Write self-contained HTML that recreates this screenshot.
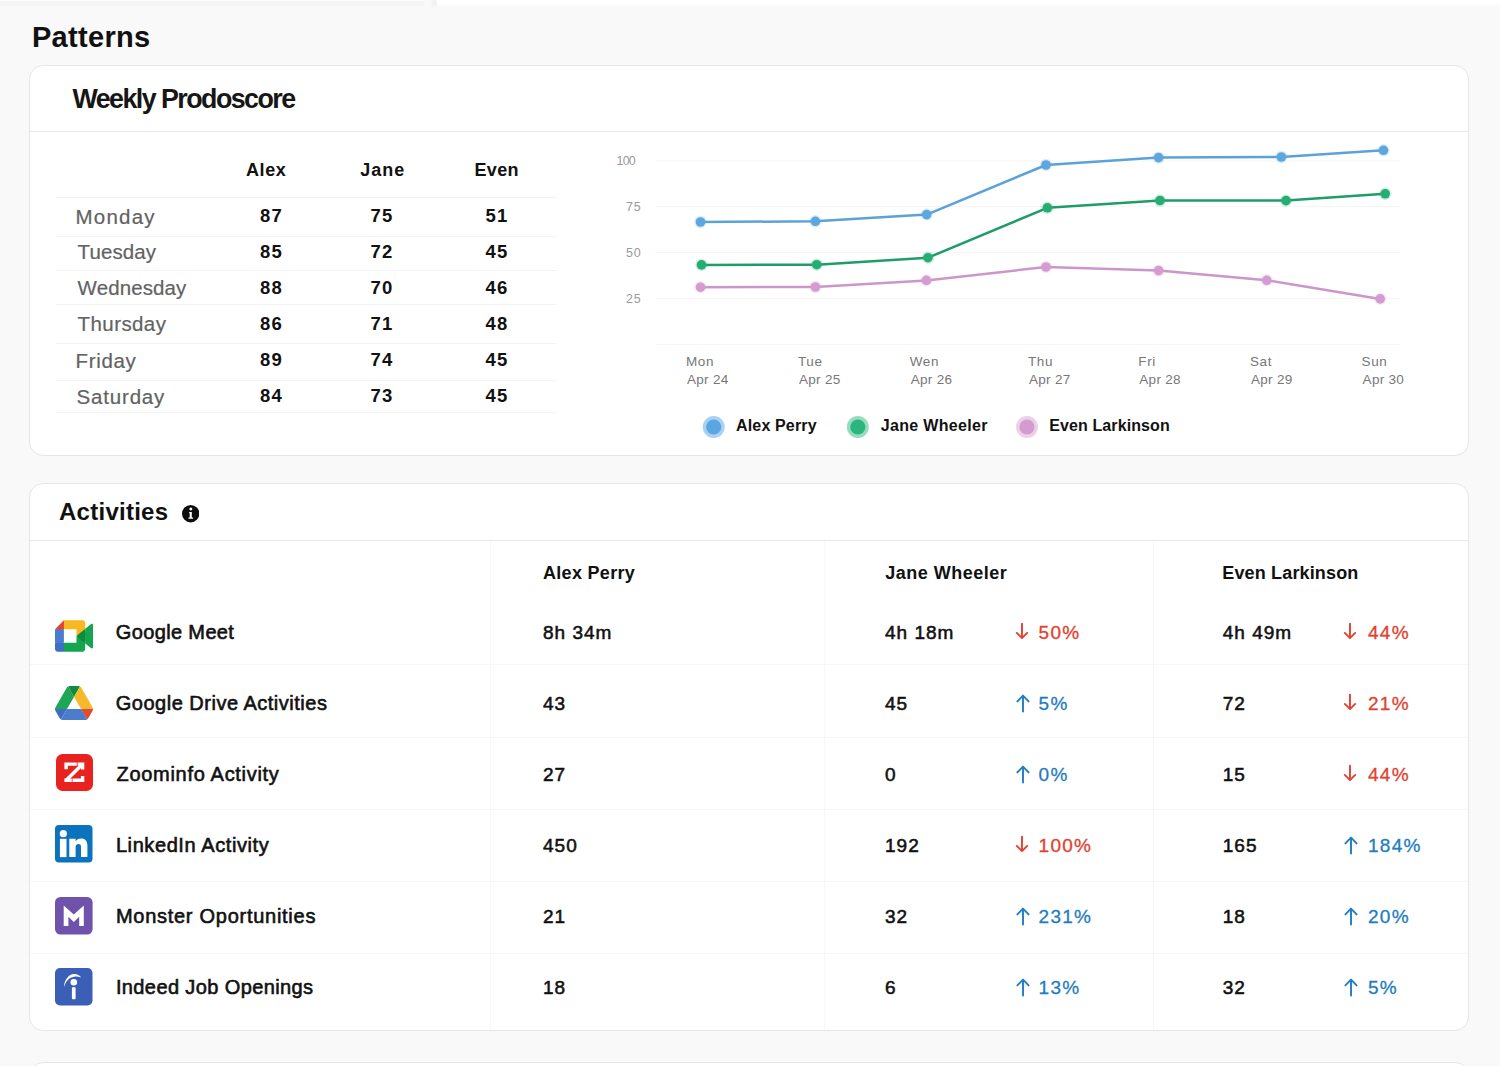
<!DOCTYPE html>
<html><head><meta charset="utf-8"><title>Patterns</title>
<style>
html,body{margin:0;padding:0;}
body{width:1500px;height:1066px;overflow:hidden;position:relative;background:#f9f9f9;font-family:"Liberation Sans",sans-serif;}
.t{position:absolute;white-space:nowrap;line-height:1;}
</style></head><body>
<div class="t" style="left:31.90px;top:23.45px;font-size:29px;font-weight:700;color:#111;letter-spacing:0.33px;">Patterns</div>
<div style="position:absolute;left:29px;top:65px;width:1440px;height:391px;box-sizing:border-box;border:1px solid #e6e6e6;border-radius:14px;background:#fff;"></div>
<div style="position:absolute;left:30px;top:131px;width:1438px;height:1px;background:#e8e8e8;"></div>
<div class="t" style="left:72.40px;top:85.91px;font-size:26.8px;font-weight:700;color:#161616;letter-spacing:-1.53px;">Weekly Prodoscore</div>
<div class="t" style="left:246.00px;top:161.46px;font-size:18px;font-weight:700;color:#111;letter-spacing:0.57px;">Alex</div>
<div class="t" style="left:360.30px;top:161.46px;font-size:18px;font-weight:700;color:#111;letter-spacing:1.0px;">Jane</div>
<div class="t" style="left:474.60px;top:161.46px;font-size:18px;font-weight:700;color:#111;letter-spacing:0.27px;">Even</div>
<div style="position:absolute;left:56px;top:196.5px;width:500px;height:1px;background:#f2f2f2;"></div>
<div style="position:absolute;left:56px;top:236px;width:500px;height:1px;background:#f2f2f2;"></div>
<div style="position:absolute;left:56px;top:269.5px;width:500px;height:1px;background:#f2f2f2;"></div>
<div style="position:absolute;left:56px;top:304px;width:500px;height:1px;background:#f2f2f2;"></div>
<div style="position:absolute;left:56px;top:343px;width:500px;height:1px;background:#f2f2f2;"></div>
<div style="position:absolute;left:56px;top:379.5px;width:500px;height:1px;background:#f2f2f2;"></div>
<div style="position:absolute;left:56px;top:412px;width:500px;height:1px;background:#f2f2f2;"></div>
<div class="t" style="left:75.60px;top:206.55px;font-size:20.5px;font-weight:400;color:#626262;letter-spacing:1.2px;-webkit-text-stroke:0.2px #626262;">Monday</div>
<div class="t" style="left:241.60px;top:206.54px;font-size:18.5px;font-weight:700;color:#111;letter-spacing:1.2px;text-align:center;width:60px;">87</div>
<div class="t" style="left:351.90px;top:206.54px;font-size:18.5px;font-weight:700;color:#111;letter-spacing:1.2px;text-align:center;width:60px;">75</div>
<div class="t" style="left:467.10px;top:206.54px;font-size:18.5px;font-weight:700;color:#111;letter-spacing:1.2px;text-align:center;width:60px;">51</div>
<div class="t" style="left:77.60px;top:242.35px;font-size:20.5px;font-weight:400;color:#626262;letter-spacing:0.08px;-webkit-text-stroke:0.2px #626262;">Tuesday</div>
<div class="t" style="left:241.60px;top:243.14px;font-size:18.5px;font-weight:700;color:#111;letter-spacing:1.2px;text-align:center;width:60px;">85</div>
<div class="t" style="left:351.90px;top:243.14px;font-size:18.5px;font-weight:700;color:#111;letter-spacing:1.2px;text-align:center;width:60px;">72</div>
<div class="t" style="left:467.10px;top:243.14px;font-size:18.5px;font-weight:700;color:#111;letter-spacing:1.2px;text-align:center;width:60px;">45</div>
<div class="t" style="left:77.60px;top:278.25px;font-size:20.5px;font-weight:400;color:#626262;letter-spacing:0.1px;-webkit-text-stroke:0.2px #626262;">Wednesday</div>
<div class="t" style="left:241.60px;top:278.94px;font-size:18.5px;font-weight:700;color:#111;letter-spacing:1.2px;text-align:center;width:60px;">88</div>
<div class="t" style="left:351.90px;top:278.94px;font-size:18.5px;font-weight:700;color:#111;letter-spacing:1.2px;text-align:center;width:60px;">70</div>
<div class="t" style="left:467.10px;top:278.94px;font-size:18.5px;font-weight:700;color:#111;letter-spacing:1.2px;text-align:center;width:60px;">46</div>
<div class="t" style="left:77.60px;top:314.35px;font-size:20.5px;font-weight:400;color:#626262;letter-spacing:0.41px;-webkit-text-stroke:0.2px #626262;">Thursday</div>
<div class="t" style="left:241.60px;top:314.94px;font-size:18.5px;font-weight:700;color:#111;letter-spacing:1.2px;text-align:center;width:60px;">86</div>
<div class="t" style="left:351.90px;top:314.94px;font-size:18.5px;font-weight:700;color:#111;letter-spacing:1.2px;text-align:center;width:60px;">71</div>
<div class="t" style="left:467.10px;top:314.94px;font-size:18.5px;font-weight:700;color:#111;letter-spacing:1.2px;text-align:center;width:60px;">48</div>
<div class="t" style="left:75.60px;top:350.55px;font-size:20.5px;font-weight:400;color:#626262;letter-spacing:0.66px;-webkit-text-stroke:0.2px #626262;">Friday</div>
<div class="t" style="left:241.60px;top:350.94px;font-size:18.5px;font-weight:700;color:#111;letter-spacing:1.2px;text-align:center;width:60px;">89</div>
<div class="t" style="left:351.90px;top:350.94px;font-size:18.5px;font-weight:700;color:#111;letter-spacing:1.2px;text-align:center;width:60px;">74</div>
<div class="t" style="left:467.10px;top:350.94px;font-size:18.5px;font-weight:700;color:#111;letter-spacing:1.2px;text-align:center;width:60px;">45</div>
<div class="t" style="left:76.60px;top:386.75px;font-size:20.5px;font-weight:400;color:#626262;letter-spacing:0.81px;-webkit-text-stroke:0.2px #626262;">Saturday</div>
<div class="t" style="left:241.60px;top:387.14px;font-size:18.5px;font-weight:700;color:#111;letter-spacing:1.2px;text-align:center;width:60px;">84</div>
<div class="t" style="left:351.90px;top:387.14px;font-size:18.5px;font-weight:700;color:#111;letter-spacing:1.2px;text-align:center;width:60px;">73</div>
<div class="t" style="left:467.10px;top:387.14px;font-size:18.5px;font-weight:700;color:#111;letter-spacing:1.2px;text-align:center;width:60px;">45</div>
<div class="t" style="left:616.50px;top:155.42px;font-size:12.5px;font-weight:400;color:#9a9a9a;letter-spacing:-0.8px;">100</div>
<div class="t" style="left:626.10px;top:201.22px;font-size:12.5px;font-weight:400;color:#9a9a9a;letter-spacing:0.8px;">75</div>
<div class="t" style="left:626.10px;top:247.02px;font-size:12.5px;font-weight:400;color:#9a9a9a;letter-spacing:0.8px;">50</div>
<div class="t" style="left:626.10px;top:292.82px;font-size:12.5px;font-weight:400;color:#9a9a9a;letter-spacing:0.8px;">25</div>
<div class="t" style="left:686.00px;top:354.57px;font-size:13.5px;font-weight:400;color:#777;letter-spacing:0.6px;">Mon</div>
<div class="t" style="left:687.00px;top:373.07px;font-size:13.5px;font-weight:400;color:#777;letter-spacing:0.3px;">Apr 24</div>
<div class="t" style="left:798.00px;top:354.57px;font-size:13.5px;font-weight:400;color:#777;letter-spacing:0.6px;">Tue</div>
<div class="t" style="left:799.00px;top:373.07px;font-size:13.5px;font-weight:400;color:#777;letter-spacing:0.3px;">Apr 25</div>
<div class="t" style="left:909.70px;top:354.57px;font-size:13.5px;font-weight:400;color:#777;letter-spacing:0.6px;">Wen</div>
<div class="t" style="left:910.70px;top:373.07px;font-size:13.5px;font-weight:400;color:#777;letter-spacing:0.3px;">Apr 26</div>
<div class="t" style="left:1028.00px;top:354.57px;font-size:13.5px;font-weight:400;color:#777;letter-spacing:0.6px;">Thu</div>
<div class="t" style="left:1029.00px;top:373.07px;font-size:13.5px;font-weight:400;color:#777;letter-spacing:0.3px;">Apr 27</div>
<div class="t" style="left:1138.30px;top:354.57px;font-size:13.5px;font-weight:400;color:#777;letter-spacing:0.6px;">Fri</div>
<div class="t" style="left:1139.30px;top:373.07px;font-size:13.5px;font-weight:400;color:#777;letter-spacing:0.3px;">Apr 28</div>
<div class="t" style="left:1250.00px;top:354.57px;font-size:13.5px;font-weight:400;color:#777;letter-spacing:0.6px;">Sat</div>
<div class="t" style="left:1251.00px;top:373.07px;font-size:13.5px;font-weight:400;color:#777;letter-spacing:0.3px;">Apr 29</div>
<div class="t" style="left:1361.60px;top:354.57px;font-size:13.5px;font-weight:400;color:#777;letter-spacing:0.6px;">Sun</div>
<div class="t" style="left:1362.60px;top:373.07px;font-size:13.5px;font-weight:400;color:#777;letter-spacing:0.3px;">Apr 30</div>
<svg style="position:absolute;left:0;top:0" width="1500" height="1066" viewBox="0 0 1500 1066">
<line x1="656" y1="161" x2="1400" y2="161" stroke="#f6f6f6" stroke-width="1"/>
<line x1="656" y1="206.5" x2="1400" y2="206.5" stroke="#f6f6f6" stroke-width="1"/>
<line x1="656" y1="252.5" x2="1400" y2="252.5" stroke="#f6f6f6" stroke-width="1"/>
<line x1="656" y1="298.5" x2="1400" y2="298.5" stroke="#f6f6f6" stroke-width="1"/>
<line x1="656" y1="344.5" x2="1400" y2="344.5" stroke="#f6f6f6" stroke-width="1"/>
<polyline points="700.5,287.2 815.4,287 926.4,280.4 1046,267 1158.6,270.6 1266.7,280.3 1380.2,298.9" fill="none" stroke="#cd96ca" stroke-width="2.5" stroke-linejoin="round"/>
<circle cx="700.5" cy="287.2" r="6.2" fill="#d49cd1" opacity="0.22"/>
<circle cx="700.5" cy="287.2" r="4.8" fill="#d49cd1"/>
<circle cx="815.4" cy="287" r="6.2" fill="#d49cd1" opacity="0.22"/>
<circle cx="815.4" cy="287" r="4.8" fill="#d49cd1"/>
<circle cx="926.4" cy="280.4" r="6.2" fill="#d49cd1" opacity="0.22"/>
<circle cx="926.4" cy="280.4" r="4.8" fill="#d49cd1"/>
<circle cx="1046" cy="267" r="6.2" fill="#d49cd1" opacity="0.22"/>
<circle cx="1046" cy="267" r="4.8" fill="#d49cd1"/>
<circle cx="1158.6" cy="270.6" r="6.2" fill="#d49cd1" opacity="0.22"/>
<circle cx="1158.6" cy="270.6" r="4.8" fill="#d49cd1"/>
<circle cx="1266.7" cy="280.3" r="6.2" fill="#d49cd1" opacity="0.22"/>
<circle cx="1266.7" cy="280.3" r="4.8" fill="#d49cd1"/>
<circle cx="1380.2" cy="298.9" r="6.2" fill="#d49cd1" opacity="0.22"/>
<circle cx="1380.2" cy="298.9" r="4.8" fill="#d49cd1"/>
<polyline points="701.5,264.9 816.7,264.7 928,257.7 1047.4,207.8 1160,200.5 1286,200.6 1385.2,193.8" fill="none" stroke="#1f9d66" stroke-width="2.5" stroke-linejoin="round"/>
<circle cx="701.5" cy="264.9" r="6.2" fill="#25ae74" opacity="0.22"/>
<circle cx="701.5" cy="264.9" r="4.8" fill="#25ae74"/>
<circle cx="816.7" cy="264.7" r="6.2" fill="#25ae74" opacity="0.22"/>
<circle cx="816.7" cy="264.7" r="4.8" fill="#25ae74"/>
<circle cx="928" cy="257.7" r="6.2" fill="#25ae74" opacity="0.22"/>
<circle cx="928" cy="257.7" r="4.8" fill="#25ae74"/>
<circle cx="1047.4" cy="207.8" r="6.2" fill="#25ae74" opacity="0.22"/>
<circle cx="1047.4" cy="207.8" r="4.8" fill="#25ae74"/>
<circle cx="1160" cy="200.5" r="6.2" fill="#25ae74" opacity="0.22"/>
<circle cx="1160" cy="200.5" r="4.8" fill="#25ae74"/>
<circle cx="1286" cy="200.6" r="6.2" fill="#25ae74" opacity="0.22"/>
<circle cx="1286" cy="200.6" r="4.8" fill="#25ae74"/>
<circle cx="1385.2" cy="193.8" r="6.2" fill="#25ae74" opacity="0.22"/>
<circle cx="1385.2" cy="193.8" r="4.8" fill="#25ae74"/>
<polyline points="700.5,222 815.4,221.3 926.7,214.6 1046,165 1158.6,157.6 1281.4,157 1383.5,150.3" fill="none" stroke="#5ba2d8" stroke-width="2.5" stroke-linejoin="round"/>
<circle cx="700.5" cy="222" r="6.2" fill="#5da7df" opacity="0.22"/>
<circle cx="700.5" cy="222" r="4.8" fill="#5da7df"/>
<circle cx="815.4" cy="221.3" r="6.2" fill="#5da7df" opacity="0.22"/>
<circle cx="815.4" cy="221.3" r="4.8" fill="#5da7df"/>
<circle cx="926.7" cy="214.6" r="6.2" fill="#5da7df" opacity="0.22"/>
<circle cx="926.7" cy="214.6" r="4.8" fill="#5da7df"/>
<circle cx="1046" cy="165" r="6.2" fill="#5da7df" opacity="0.22"/>
<circle cx="1046" cy="165" r="4.8" fill="#5da7df"/>
<circle cx="1158.6" cy="157.6" r="6.2" fill="#5da7df" opacity="0.22"/>
<circle cx="1158.6" cy="157.6" r="4.8" fill="#5da7df"/>
<circle cx="1281.4" cy="157" r="6.2" fill="#5da7df" opacity="0.22"/>
<circle cx="1281.4" cy="157" r="4.8" fill="#5da7df"/>
<circle cx="1383.5" cy="150.3" r="6.2" fill="#5da7df" opacity="0.22"/>
<circle cx="1383.5" cy="150.3" r="4.8" fill="#5da7df"/>
<circle cx="713.7" cy="427" r="11" fill="#a9d2f2"/>
<circle cx="713.7" cy="427" r="7.6" fill="#5aa6e0"/>
<circle cx="857.8" cy="427" r="11" fill="#96dcbe"/>
<circle cx="857.8" cy="427" r="7.6" fill="#2bb67f"/>
<circle cx="1027" cy="427" r="11" fill="#ecd0ea"/>
<circle cx="1027" cy="427" r="7.6" fill="#d39bd0"/>
</svg>
<div class="t" style="left:736.00px;top:418.16px;font-size:16px;font-weight:700;color:#111;letter-spacing:0.16px;">Alex Perry</div>
<div class="t" style="left:880.70px;top:418.16px;font-size:16px;font-weight:700;color:#111;letter-spacing:0.34px;">Jane Wheeler</div>
<div class="t" style="left:1049.20px;top:418.16px;font-size:16px;font-weight:700;color:#111;letter-spacing:0.11px;">Even Larkinson</div>
<div style="position:absolute;left:29px;top:483px;width:1440px;height:548px;box-sizing:border-box;border:1px solid #e6e6e6;border-radius:14px;background:#fff;"></div>
<div style="position:absolute;left:30px;top:540px;width:1438px;height:1px;background:#e8e8e8;"></div>
<div class="t" style="left:59.00px;top:500.38px;font-size:24px;font-weight:700;color:#111;letter-spacing:0.26px;">Activities</div>
<svg style="position:absolute;left:181.8px;top:505.3px" width="17.4" height="17.4" viewBox="0 0 17.4 17.4"><circle cx="8.7" cy="8.7" r="8.7" fill="#0d0d0d"/><circle cx="8.8" cy="4.1" r="1.5" fill="#fff"/><path d="M7.2 6.9h2.6v5.6h1.3v1.3H6.5v-1.3h1.2V8.2h-0.5z" fill="#fff"/></svg>
<div style="position:absolute;left:490px;top:541px;width:1px;height:489px;background:#f7f7f7;"></div>
<div style="position:absolute;left:824px;top:541px;width:1px;height:489px;background:#f7f7f7;"></div>
<div style="position:absolute;left:1153px;top:541px;width:1px;height:489px;background:#f7f7f7;"></div>
<div class="t" style="left:543.00px;top:564.36px;font-size:18px;font-weight:700;color:#111;letter-spacing:0.3px;">Alex Perry</div>
<div class="t" style="left:885.30px;top:564.36px;font-size:18px;font-weight:700;color:#111;letter-spacing:0.49px;">Jane Wheeler</div>
<div class="t" style="left:1222.30px;top:564.36px;font-size:18px;font-weight:700;color:#111;letter-spacing:0.15px;">Even Larkinson</div>
<div style="position:absolute;left:30px;top:664px;width:1438px;height:1px;background:#f7f7f7;"></div>
<div style="position:absolute;left:30px;top:737px;width:1438px;height:1px;background:#f7f7f7;"></div>
<div style="position:absolute;left:30px;top:809px;width:1438px;height:1px;background:#f7f7f7;"></div>
<div style="position:absolute;left:30px;top:881px;width:1438px;height:1px;background:#f7f7f7;"></div>
<div style="position:absolute;left:30px;top:953px;width:1438px;height:1px;background:#f7f7f7;"></div>
<div class="t" style="left:115.80px;top:622.17px;font-size:20px;font-weight:400;color:#111;letter-spacing:0.36px;-webkit-text-stroke:0.6px #111;">Google Meet</div>
<div class="t" style="left:543.00px;top:623.02px;font-size:19px;font-weight:400;color:#111;letter-spacing:1.0px;-webkit-text-stroke:0.55px #111;">8h 34m</div>
<div class="t" style="left:885.00px;top:623.02px;font-size:19px;font-weight:400;color:#111;letter-spacing:1.0px;-webkit-text-stroke:0.55px #111;">4h 18m</div>
<svg style="position:absolute;left:1014.20px;top:621.10px" width="16" height="22" viewBox="0 0 16 22"><path d="M8 2.60 V17.10 M2.80 11.90 L8 17.10 L13.20 11.90" fill="none" stroke="#e2412f" stroke-width="1.9" stroke-linecap="round" stroke-linejoin="round"/></svg>
<div class="t" style="left:1038.60px;top:623.02px;font-size:19px;font-weight:400;color:#e2412f;letter-spacing:1.25px;-webkit-text-stroke:0.3px #e2412f;">50%</div>
<div class="t" style="left:1222.80px;top:623.02px;font-size:19px;font-weight:400;color:#111;letter-spacing:1.0px;-webkit-text-stroke:0.55px #111;">4h 49m</div>
<svg style="position:absolute;left:1342.00px;top:621.10px" width="16" height="22" viewBox="0 0 16 22"><path d="M8 2.60 V17.10 M2.80 11.90 L8 17.10 L13.20 11.90" fill="none" stroke="#e2412f" stroke-width="1.9" stroke-linecap="round" stroke-linejoin="round"/></svg>
<div class="t" style="left:1368.00px;top:623.02px;font-size:19px;font-weight:400;color:#e2412f;letter-spacing:1.25px;-webkit-text-stroke:0.3px #e2412f;">44%</div>
<div class="t" style="left:115.80px;top:693.09px;font-size:20px;font-weight:400;color:#111;letter-spacing:0.5px;-webkit-text-stroke:0.6px #111;">Google Drive Activities</div>
<div class="t" style="left:543.00px;top:693.94px;font-size:19px;font-weight:400;color:#111;letter-spacing:1.0px;-webkit-text-stroke:0.55px #111;">43</div>
<div class="t" style="left:885.00px;top:693.94px;font-size:19px;font-weight:400;color:#111;letter-spacing:1.0px;-webkit-text-stroke:0.55px #111;">45</div>
<svg style="position:absolute;left:1015.10px;top:692.02px" width="16" height="22" viewBox="0 0 16 22"><path d="M8 19.60 V3.70 M2.40 9.40 L8 3.70 L13.60 9.40" fill="none" stroke="#1f7dc0" stroke-width="1.9" stroke-linecap="round" stroke-linejoin="round"/></svg>
<div class="t" style="left:1038.60px;top:693.94px;font-size:19px;font-weight:400;color:#1f7dc0;letter-spacing:1.25px;-webkit-text-stroke:0.3px #1f7dc0;">5%</div>
<div class="t" style="left:1222.80px;top:693.94px;font-size:19px;font-weight:400;color:#111;letter-spacing:1.0px;-webkit-text-stroke:0.55px #111;">72</div>
<svg style="position:absolute;left:1342.00px;top:692.02px" width="16" height="22" viewBox="0 0 16 22"><path d="M8 2.60 V17.10 M2.80 11.90 L8 17.10 L13.20 11.90" fill="none" stroke="#e2412f" stroke-width="1.9" stroke-linecap="round" stroke-linejoin="round"/></svg>
<div class="t" style="left:1368.00px;top:693.94px;font-size:19px;font-weight:400;color:#e2412f;letter-spacing:1.25px;-webkit-text-stroke:0.3px #e2412f;">21%</div>
<div class="t" style="left:116.50px;top:764.01px;font-size:20px;font-weight:400;color:#111;letter-spacing:0.7px;-webkit-text-stroke:0.6px #111;">Zoominfo Activity</div>
<div class="t" style="left:543.00px;top:764.86px;font-size:19px;font-weight:400;color:#111;letter-spacing:1.0px;-webkit-text-stroke:0.55px #111;">27</div>
<div class="t" style="left:885.00px;top:764.86px;font-size:19px;font-weight:400;color:#111;letter-spacing:1.0px;-webkit-text-stroke:0.55px #111;">0</div>
<svg style="position:absolute;left:1015.10px;top:762.94px" width="16" height="22" viewBox="0 0 16 22"><path d="M8 19.60 V3.70 M2.40 9.40 L8 3.70 L13.60 9.40" fill="none" stroke="#1f7dc0" stroke-width="1.9" stroke-linecap="round" stroke-linejoin="round"/></svg>
<div class="t" style="left:1038.60px;top:764.86px;font-size:19px;font-weight:400;color:#1f7dc0;letter-spacing:1.25px;-webkit-text-stroke:0.3px #1f7dc0;">0%</div>
<div class="t" style="left:1222.80px;top:764.86px;font-size:19px;font-weight:400;color:#111;letter-spacing:1.0px;-webkit-text-stroke:0.55px #111;">15</div>
<svg style="position:absolute;left:1342.00px;top:762.94px" width="16" height="22" viewBox="0 0 16 22"><path d="M8 2.60 V17.10 M2.80 11.90 L8 17.10 L13.20 11.90" fill="none" stroke="#e2412f" stroke-width="1.9" stroke-linecap="round" stroke-linejoin="round"/></svg>
<div class="t" style="left:1368.00px;top:764.86px;font-size:19px;font-weight:400;color:#e2412f;letter-spacing:1.25px;-webkit-text-stroke:0.3px #e2412f;">44%</div>
<div class="t" style="left:115.90px;top:834.93px;font-size:20px;font-weight:400;color:#111;letter-spacing:0.59px;-webkit-text-stroke:0.6px #111;">LinkedIn Activity</div>
<div class="t" style="left:543.00px;top:835.78px;font-size:19px;font-weight:400;color:#111;letter-spacing:1.0px;-webkit-text-stroke:0.55px #111;">450</div>
<div class="t" style="left:885.00px;top:835.78px;font-size:19px;font-weight:400;color:#111;letter-spacing:1.0px;-webkit-text-stroke:0.55px #111;">192</div>
<svg style="position:absolute;left:1014.20px;top:833.86px" width="16" height="22" viewBox="0 0 16 22"><path d="M8 2.60 V17.10 M2.80 11.90 L8 17.10 L13.20 11.90" fill="none" stroke="#e2412f" stroke-width="1.9" stroke-linecap="round" stroke-linejoin="round"/></svg>
<div class="t" style="left:1038.60px;top:835.78px;font-size:19px;font-weight:400;color:#e2412f;letter-spacing:1.25px;-webkit-text-stroke:0.3px #e2412f;">100%</div>
<div class="t" style="left:1222.80px;top:835.78px;font-size:19px;font-weight:400;color:#111;letter-spacing:1.0px;-webkit-text-stroke:0.55px #111;">165</div>
<svg style="position:absolute;left:1342.90px;top:833.86px" width="16" height="22" viewBox="0 0 16 22"><path d="M8 19.60 V3.70 M2.40 9.40 L8 3.70 L13.60 9.40" fill="none" stroke="#1f7dc0" stroke-width="1.9" stroke-linecap="round" stroke-linejoin="round"/></svg>
<div class="t" style="left:1368.00px;top:835.78px;font-size:19px;font-weight:400;color:#1f7dc0;letter-spacing:1.25px;-webkit-text-stroke:0.3px #1f7dc0;">184%</div>
<div class="t" style="left:115.90px;top:905.85px;font-size:20px;font-weight:400;color:#111;letter-spacing:0.73px;-webkit-text-stroke:0.6px #111;">Monster Oportunities</div>
<div class="t" style="left:543.00px;top:906.70px;font-size:19px;font-weight:400;color:#111;letter-spacing:1.0px;-webkit-text-stroke:0.55px #111;">21</div>
<div class="t" style="left:885.00px;top:906.70px;font-size:19px;font-weight:400;color:#111;letter-spacing:1.0px;-webkit-text-stroke:0.55px #111;">32</div>
<svg style="position:absolute;left:1015.10px;top:904.78px" width="16" height="22" viewBox="0 0 16 22"><path d="M8 19.60 V3.70 M2.40 9.40 L8 3.70 L13.60 9.40" fill="none" stroke="#1f7dc0" stroke-width="1.9" stroke-linecap="round" stroke-linejoin="round"/></svg>
<div class="t" style="left:1038.60px;top:906.70px;font-size:19px;font-weight:400;color:#1f7dc0;letter-spacing:1.25px;-webkit-text-stroke:0.3px #1f7dc0;">231%</div>
<div class="t" style="left:1222.80px;top:906.70px;font-size:19px;font-weight:400;color:#111;letter-spacing:1.0px;-webkit-text-stroke:0.55px #111;">18</div>
<svg style="position:absolute;left:1342.90px;top:904.78px" width="16" height="22" viewBox="0 0 16 22"><path d="M8 19.60 V3.70 M2.40 9.40 L8 3.70 L13.60 9.40" fill="none" stroke="#1f7dc0" stroke-width="1.9" stroke-linecap="round" stroke-linejoin="round"/></svg>
<div class="t" style="left:1368.00px;top:906.70px;font-size:19px;font-weight:400;color:#1f7dc0;letter-spacing:1.25px;-webkit-text-stroke:0.3px #1f7dc0;">20%</div>
<div class="t" style="left:115.90px;top:976.77px;font-size:20px;font-weight:400;color:#111;letter-spacing:0.39px;-webkit-text-stroke:0.6px #111;">Indeed Job Openings</div>
<div class="t" style="left:543.00px;top:977.62px;font-size:19px;font-weight:400;color:#111;letter-spacing:1.0px;-webkit-text-stroke:0.55px #111;">18</div>
<div class="t" style="left:885.00px;top:977.62px;font-size:19px;font-weight:400;color:#111;letter-spacing:1.0px;-webkit-text-stroke:0.55px #111;">6</div>
<svg style="position:absolute;left:1015.10px;top:975.70px" width="16" height="22" viewBox="0 0 16 22"><path d="M8 19.60 V3.70 M2.40 9.40 L8 3.70 L13.60 9.40" fill="none" stroke="#1f7dc0" stroke-width="1.9" stroke-linecap="round" stroke-linejoin="round"/></svg>
<div class="t" style="left:1038.60px;top:977.62px;font-size:19px;font-weight:400;color:#1f7dc0;letter-spacing:1.25px;-webkit-text-stroke:0.3px #1f7dc0;">13%</div>
<div class="t" style="left:1222.80px;top:977.62px;font-size:19px;font-weight:400;color:#111;letter-spacing:1.0px;-webkit-text-stroke:0.55px #111;">32</div>
<svg style="position:absolute;left:1342.90px;top:975.70px" width="16" height="22" viewBox="0 0 16 22"><path d="M8 19.60 V3.70 M2.40 9.40 L8 3.70 L13.60 9.40" fill="none" stroke="#1f7dc0" stroke-width="1.9" stroke-linecap="round" stroke-linejoin="round"/></svg>
<div class="t" style="left:1368.00px;top:977.62px;font-size:19px;font-weight:400;color:#1f7dc0;letter-spacing:1.25px;-webkit-text-stroke:0.3px #1f7dc0;">5%</div>
<div style="position:absolute;left:55px;top:620px;line-height:0"><svg width="38" height="32" viewBox="0 0 87.5 72"><path fill="#0f8a3e" d="M49.5 36l8.53 9.75 11.47 7.33 2-17.02-2-16.64-11.69 6.44z"/><path fill="#3f6fc4" d="M0 51.5V66c0 3.315 2.685 6 6 6h14.5l3-10.96-3-9.54-9.95-3z"/><path fill="#e4412f" d="M20.5 0L0 20.5l10.55 3 9.95-3 2.95-9.41z"/><path fill="#4a7ccb" d="M20.5 20.5H0v31h20.5z"/><path fill="#14a550" d="M82.6 8.68L69.5 19.42v33.66l13.16 10.79c1.97 1.54 4.85.135 4.85-2.37V11c0-2.535-2.945-3.925-4.91-2.32zM49.5 36v15.5h-29V72h43c3.315 0 6-2.685 6-6V53.08z"/><path fill="#f8b820" d="M63.5 0h-43v20.5h29V36l20-16.57V6c0-3.315-2.685-6-6-6z"/></svg></div>
<div style="position:absolute;left:55px;top:686px;line-height:0"><svg width="38" height="34" viewBox="0 0 87.3 78"><path d="m6.6 66.85 3.85 6.65c.8 1.4 1.95 2.5 3.3 3.3l13.75-23.8h-27.5c0 1.55.4 3.1 1.2 4.5z" fill="#3f6fc4"/><path d="m43.65 25-13.75-23.8c-1.35.8-2.5 1.9-3.3 3.3l-25.4 44a9.06 9.06 0 0 0 -1.2 4.5h27.5z" fill="#1ea556"/><path d="m73.55 76.8c1.35-.8 2.5-1.9 3.3-3.3l1.6-2.75 7.65-13.25c.8-1.4 1.2-2.95 1.2-4.5h-27.502l5.852 11.5z" fill="#e24a35"/><path d="m43.65 25 13.75-23.8c-1.35-.8-2.9-1.2-4.5-1.2h-18.5c-1.6 0-3.15.45-4.5 1.2z" fill="#128a40"/><path d="m59.8 53h-32.3l-13.75 23.8c1.35.8 2.9 1.2 4.5 1.2h50.8c1.6 0 3.15-.45 4.5-1.2z" fill="#4a7dcb"/><path d="m73.4 26.5-12.7-22c-.8-1.4-1.95-2.5-3.3-3.3l-13.75 23.8 16.15 28h27.45c0-1.55-.4-3.1-1.2-4.5z" fill="#f6b92c"/></svg></div>
<div style="position:absolute;left:55.5px;top:754.2px;line-height:0"><svg width="37" height="37" viewBox="0 0 37 37"><rect width="37" height="37" rx="6.5" fill="#e8231f"/><g fill="#fff"><path d="M8.4 8.4H21V11.8H11.8V15.2H8.4z"/><path d="M21.3 8.4H28.3V15.6H24.9V11.8H21.3z"/><path d="M24.9 22H28.3V27.9H8.4V24.5H24.9z"/></g><path d="M10.2 26.2L26.4 10.2" stroke="#fff" stroke-width="3.4"/><path d="M21.2 8L21.2 12.2M16.2 24.2L16.2 28.3" stroke="#e8231f" stroke-width="0.7"/></svg></div>
<div style="position:absolute;left:55.2px;top:825.4px;line-height:0"><svg width="37.5" height="37.5" viewBox="0 0 37.5 37.5"><rect width="37.5" height="37.5" rx="4" fill="#0b72be"/><circle cx="8.3" cy="8.7" r="3.6" fill="#fff"/><rect x="4.9" y="13.8" width="6.6" height="18.3" fill="#fff"/><path d="M14.3 13.8H20.6V16.2C21.6 14.6 23.4 13.4 26.2 13.4C30.4 13.4 32.4 16 32.4 20.6V32.1H26V21.8C26 19.8 25.3 18.9 23.4 18.9C21.5 18.9 20.6 20.2 20.6 22.2V32.1H14.3z" fill="#fff"/></svg></div>
<div style="position:absolute;left:55.2px;top:897px;line-height:0"><svg width="37.6" height="37.6" viewBox="0 0 37.6 37.6"><rect width="37.6" height="37.6" rx="5.5" fill="#6f52ab"/><path d="M8.7 8.4L18.8 17.6L28.8 8.4V29.1H24.2V19.8L18.8 24.9L13.4 19.8V29.1H8.7z" fill="#fff"/></svg></div>
<div style="position:absolute;left:55.2px;top:968.3px;line-height:0"><svg width="37.5" height="37.5" viewBox="0 0 37.5 37.5"><rect width="37.5" height="37.5" rx="5" fill="#3b5fb7"/><circle cx="18.8" cy="14.3" r="3.3" fill="#fff"/><rect x="16.9" y="19.2" width="3.7" height="12" rx="0.8" fill="#fff"/><path d="M8.9 19.3C9.3 12 13.8 6.2 19 6.1C22.1 6 24.6 7.4 26.2 9.4C24.2 8.7 21.6 8.4 19.1 8.7C14.2 9.3 10.6 13.2 8.9 19.3Z" fill="#fff"/></svg></div>
<div style="position:absolute;left:29px;top:1062px;width:1440px;height:60px;box-sizing:border-box;border:1px solid #e6e6e6;border-radius:14px;background:#fff;"></div>
<div style="position:absolute;left:0px;top:1px;width:424px;height:5px;background:#f5f5f5;"></div>
<div style="position:absolute;left:0px;top:0px;width:424px;height:1px;background:#fdfdfd;"></div>
<div style="position:absolute;left:432px;top:0px;width:6px;height:6px;background:#f2f2f2;filter:blur(1px);"></div>
<div style="position:absolute;left:437px;top:0px;width:1063px;height:4px;background:#fff;"></div>
<div style="position:absolute;left:437px;top:4px;width:1063px;height:3px;background:linear-gradient(#fdfdfd,#f9f9f9);"></div>
</body></html>
